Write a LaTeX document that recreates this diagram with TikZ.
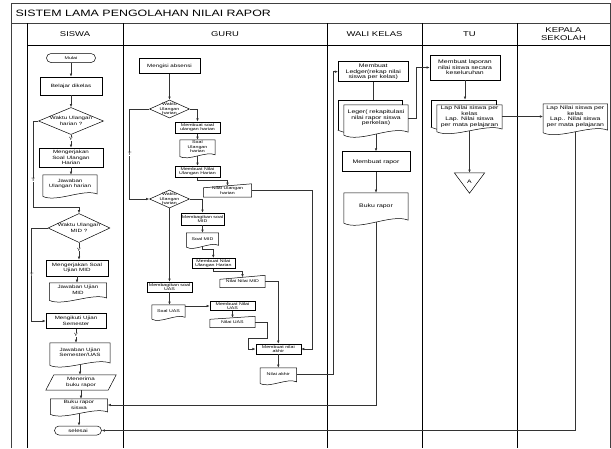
\documentclass[tikz,border=0pt]{standalone}
\usepackage{fontspec}
\setmainfont{Liberation Sans}[FakeStretch=1.35]
\usetikzlibrary{positioning,shapes.geometric,arrows.meta,calc}

\newcommand{\ftitle}{\fontsize{9.2}{10}\selectfont}
\newcommand{\fhead}{\fontsize{7}{7.8}\selectfont}
\newcommand{\fsiswa}{\fontsize{4.6}{5.6}\selectfont}
\newcommand{\fguru}{\fontsize{3.9}{4.5}\selectfont}
\newcommand{\fwali}{\fontsize{5.1}{5.6}\selectfont}

%% outlines drawn round named nodes
\newcommand{\docwave}[2]{%
  \draw[shp] ($(#1.south west)+(0,0.4*#2)$) -- (#1.north west) -- (#1.north east)
    -- ($(#1.south east)+(0,0.1*#2)$)
    .. controls ($(#1.south)!0.5!(#1.south east)+(0,-0.6*#2)$)
    and ($(#1.south)!0.5!(#1.south west)+(0,1.2*#2)$) .. ($(#1.south west)+(0,0.4*#2)$);
  \coordinate (#1-foot) at ($(#1.south)+(0,0.29*#2)$);}
\newcommand{\backpage}[1]{%
  \draw[shp] ($(#1.south west)+(-6,-1)$) -- ($(#1.north west)+(-6,-5)$)
    -- ($(#1.north east)+(-6,-5)$) -- ($(#1.north east)+(-6,0)$);
  \draw[shp] ($(#1.south west)+(-6,-1)$) -- ($(#1.south west)+(0,1)$);}
\newcommand{\manin}[2]{%
  \draw[shp] (#1.south west) -- ($(#1.north west)+(0,#2)$)
    -- (#1.north east) -- (#1.south east) -- cycle;}
\newcommand{\parall}[2]{%
  \draw[shp] ($(#1.south west)+(-#2,0)$) -- ($(#1.north west)+(#2,0)$)
    -- ($(#1.north east)+(#2,0)$) -- ($(#1.south east)+(-#2,0)$) -- cycle;}

\begin{document}
\begin{tikzpicture}[x=1pt,y=-1pt,>={Latex[length=3.2pt,width=2.6pt]}]
\tikzset{
  outerline/.style={draw=black!75,line width=0.8pt},
  lane/.style={draw=black,line width=0.7pt},
  shp/.style={draw=black,line width=0.5pt},
  txt/.style={inner sep=0.5pt,align=center},
  proc/.style={txt,shp,rectangle},
  term/.style={proc,rounded corners=4.5pt},
  decision/.style={shp,diamond,inner sep=0pt},
  conn/.style={draw=black!80,line width=0.6pt},
  flow/.style={conn,->},
  lbl/.style={fill=white,inner sep=0.3pt,font=\fsiswa}
}
\useasboundingbox (0,0) rectangle (611,448);

%% Frame and swim lanes
\draw[outerline] (11,448) -- (11,3) -- (610,3) -- (610,448);
\draw[outerline] (11,23) -- (610,23);
\draw[lane] (27,45) -- (610,45);
\foreach \x in {27,123,327,422,517}
    \draw[lane] (\x,23) -- (\x,448);

\node[anchor=west,font=\ftitle] (title) at (12,13) {SISTEM LAMA PENGOLAHAN NILAI RAPOR};
\node[font=\fhead] (hsiswa) at (75,34) {SISWA};
\node[font=\fhead] (hguru) at (225,34) {GURU};
\node[font=\fhead] (hwali) at (374.5,34) {WALI KELAS};
\node[font=\fhead] (htu) at (469.5,34) {TU};
\node[font=\fhead,align=center] (hkepala) at (563.5,34) {KEPALA\\SEKOLAH};

%% SISWA
\node[term,minimum width=49,minimum height=9,font=\fguru] (s0) at (71,58) {Mulai};
\node[proc,minimum width=62,minimum height=18,font=\fsiswa] (s1) at (71,86) {Belajar dikelas};
\node[decision,minimum width=65,minimum height=27,
      label={[txt,font=\fsiswa]center:{Waktu Ulangan\\harian ?}}] (s2) at (71,121) {};
\node[proc,minimum width=64,minimum height=19,font=\fsiswa] (s3) at (71,157.5) {Mengerjakan\\Soal Ulangan\\Harian};
\node[txt,minimum width=54,minimum height=18,font=\fsiswa] (s4) at (70,184) {Jawaban\\Ulangan harian};
\node[decision,minimum width=62,minimum height=29,
      label={[txt,font=\fsiswa]center:{Waktu Ulangan\\MID ?}}] (s5) at (79,228) {};
\node[proc,minimum width=62,minimum height=16,font=\fsiswa] (s6) at (77,268) {Mengerjakan Soal\\Ujian MID};
\node[txt,minimum width=57,minimum height=14,font=\fsiswa] (s7) at (78,290) {Jawaban Ujian\\MID};
\node[proc,minimum width=60,minimum height=15,font=\fsiswa] (s8) at (76,321) {Mengikuti Ujian\\Semester};
\node[txt,minimum width=60,minimum height=19,font=\fsiswa] (s9) at (80,352.5) {Jawaban Ujian\\Semester/UAS};
\node[txt,minimum width=62,minimum height=15,font=\fsiswa] (s10) at (81,382.5) {Menerima\\buku rapor};
\node[txt,minimum width=57,minimum height=12,font=\fsiswa] (s11) at (79,405) {Buku rapor\\siswa};
\node[term,minimum width=47,minimum height=9,font=\fsiswa] (s12) at (78,430.5) {selesai};
\foreach \d in {s4,s7,s9,s11}
    {\docwave{\d}{8}}
\parall{s10}{4}

\draw[flow] (s0.south) -- (s0.south |- s1.north);
\draw[flow] (s1.south) -- (s1.south |- s2.north);
\draw[flow] (s2.south) -- node[lbl,pos=0.3] {Y} (s2.south |- s3.north);
\draw[flow] (s3.south) -- (s3.south |- s4.north);
\draw[flow] (s2.west) -- ++(-5,0) |- node[lbl,pos=0.34] {T} ($(s5.north)+(0,-6)$) -- (s5.north);
\draw[flow] (s5.south) -- node[lbl,pos=0.4] {Y} (s5.south |- s6.north);
\draw[flow] (s6.south) -- (s6.south |- s7.north);
\draw[flow] (s5.west) -- ++(-16,0) |- node[lbl,pos=0.25] {T} (s8.west);
\draw[flow] (s8.south) -- node[lbl,pos=0.45] {Y} (s8.south |- s9.north);
\draw[flow] (s9-foot) -- (s9-foot |- s10.north);
\draw[flow] (s10.south) -- (s10.south |- s11.north);
\draw[flow] (s11-foot) -- (s11-foot |- s12.north);

%% GURU
\node[proc,minimum width=61,minimum height=15,font=\fsiswa] (g0) at (169.5,66) {Mengisi absensi};
\node[decision,minimum width=40,minimum height=18,
      label={[txt,font=\fguru]center:{Waktu\\Ulangan\\harian}}] (g1) at (169.5,109) {};
\node[proc,minimum width=45,minimum height=11.5,font=\fguru] (g2) at (197.5,127.5) {Membuat soal\\ulangan harian};
\node[txt,minimum width=35,minimum height=14,font=\fguru] (g3) at (197.5,147) {Soal\\Ulangan\\harian};
\node[proc,minimum width=45,minimum height=11.3,font=\fguru] (g4) at (197.5,171.7) {Membuat Nilai\\Ulangan Harian};
\node[txt,minimum width=48,minimum height=13,font=\fguru] (g5) at (227.5,190.5) {Nilai Ulangan\\harian};
\node[decision,minimum width=40,minimum height=18,
      label={[txt,font=\fguru]center:{Waktu\\Ulangan\\harian}}] (g6) at (169.5,199) {};
\node[proc,minimum width=43,minimum height=12,font=\fguru] (g7) at (202.5,219) {Membagikan soal\\MID};
\node[txt,minimum width=32,minimum height=11.5,font=\fguru] (g8) at (202.5,238.8) {Soal MID};
\node[proc,minimum width=43,minimum height=10,font=\fguru] (g9) at (213.3,263.3) {Membuat Nilai\\Ulangan Harian};
\node[txt,minimum width=45,minimum height=12,font=\fguru] (g10) at (242.5,281.5) {Nilai Nilai MID};
\node[proc,minimum width=45,minimum height=10,font=\fguru] (g11) at (169.5,287) {Membagikan soal\\UAS};
\node[txt,minimum width=33,minimum height=11.5,font=\fguru] (g12) at (168.5,310.8) {Soal UAS};
\node[proc,minimum width=45,minimum height=9,font=\fguru] (g13) at (232.5,306) {Membuat Nilai\\UAS};
\node[txt,minimum width=45,minimum height=11,font=\fguru] (g14) at (232.5,322) {Nilai UAS};
\node[proc,minimum width=45,minimum height=10,font=\fguru] (g15) at (278.3,349) {Membuat nilai\\akhir};
\node[txt,minimum width=36,minimum height=13,font=\fguru] (g16) at (278.3,374.5) {Nilai akhir};
\foreach \d in {g3,g8,g12,g16}
    {\docwave{\d}{6}}
\manin{g5}{4}
\manin{g10}{4}
\manin{g14}{3}

\draw[flow] (g0) -- (g1);
\draw[flow] (g1.east) -| (g2.north);
\draw[flow] (g2) -- (g3);
\draw[flow] (g3-foot) -- (g4.north);
\draw[flow] (g4.south) -- ++(0,3) -| ($(g5.north)+(0,2)$);
\draw[flow] (g1.west) -- ++(-19.5,0) |- node[lbl,pos=0.25] {T} (g6.west);
\draw[flow] (g6.east) -| (g7.north);
\draw[flow] (g7) -- (g8);
\draw[flow] (g8-foot) -- ++(0,3) -| (g9.north);
\draw[flow] (g9.south) -- ++(0,3) -| ($(g10.north)+(0,2)$);
\draw[flow] (g6.south) -- (g11.north);
\draw[flow] (g11.south) -- (g11.south |- g12.north);
\draw[flow] (g12.east |- g13.west) -- (g13.west);
\draw[flow] (g13.south) -- ($(g14.north)+(0,1.5)$);
\draw[flow] (g14.east) -- ++(11.7,0) |- ($(g15.west)+(-7.7,-11)$) |- (g15.west);
\draw[flow] (g10.east) -| (g15.north);
\draw[flow] (g5.east) -| ($(g15.east)+(11,0)$) -- (g15.east);
\draw[flow] (g15) -- (g16);

%% WALI KELAS
\node[proc,minimum width=70,minimum height=20,font=\fwali] (w0) at (373.3,71.7) {Membuat\\Ledger(rekap nilai\\siswa per kelas)};
\node[txt,minimum width=64,minimum height=26,font=\fwali] (w1) at (376,118) {Leger( rekapitulasi\\nilai rapor siswa\\perkelas)};
\node[proc,minimum width=68,minimum height=20,font=\fwali] (w2) at (376,161.7) {Membuat rapor};
\node[txt,minimum width=64,minimum height=26,font=\fwali] (w3) at (376,206) {Buku rapor};
\backpage{w1}
\docwave{w1}{10}
\docwave{w3}{10}

\draw[flow] (g16.east) -| ($(w0.west)+(-5,0)$) -- (w0.west);
\draw[conn] (w0.south) -- ($(w0.south |- w1.north)+(0,-5)$);
\draw[flow] (w1-foot) -- (w2.north);
\draw[flow] (w2) -- (w3);
\draw[flow] (w3-foot) |- (s11.east);

%% TU
\node[proc,minimum width=70,minimum height=25,font=\fwali] (t0) at (465,67.5) {Membuat laporan\\nilai siswa secara\\keseluruhan};
\node[txt,minimum width=65,minimum height=23,font=\fwali] (t1) at (469.5,116.5) {Lap Nilai siswa per\\kelas\\Lap. Nilai siswa\\per mata pelajaran};
\node[txt,minimum width=30,minimum height=20,font=\fwali] (t2) at (469.5,183) {\raisebox{3pt}{A}};
\backpage{t1}
\docwave{t1}{9}
\draw[shp] (t2.north west) -- (t2.north east) -- (t2.south) -- cycle;

\draw[flow] (w1.east) -| ($(t0.west)+(-13,0)$) -- (t0.west);
\draw[flow] (t0.south) -- ($(t0.south |- t1.north)+(0,-5)$);
\draw[flow] (t1-foot) -- (t2.north);

%% KEPALA SEKOLAH
\node[txt,minimum width=64,minimum height=25,font=\fwali] (k0) at (575.3,116.5) {Lap Nilai siswa per\\kelas\\Lap.. Nilai siswa\\per mata pelajaran};
\docwave{k0}{9}

\draw[flow] (t1.east) -- (k0.west);
\draw[flow] (k0-foot) |- (s12.east);
\end{tikzpicture}
\end{document}
